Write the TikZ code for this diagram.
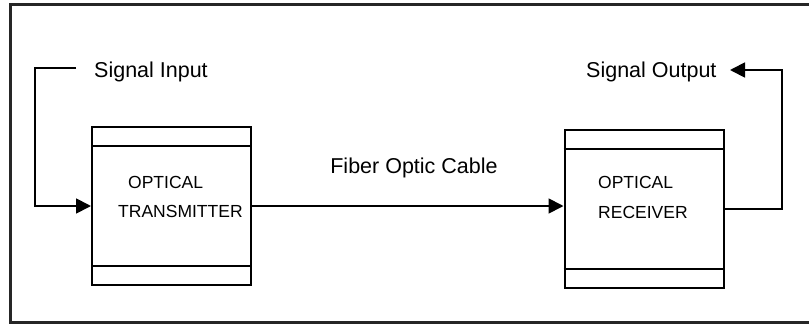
\documentclass[tikz,border=0pt]{standalone}
\usepackage{fontspec}
\setmainfont{Liberation Sans}
\usetikzlibrary{arrows.meta,positioning,calc}

\begin{document}
\begin{tikzpicture}[
    x=1pt, y=-1pt,
    unit/.style={rectangle, draw, line width=2pt, minimum width=159pt, minimum height=158pt, inner sep=0pt},
    bar/.style={line width=1.6pt},
    lbl/.style={font=\fontsize{21.5}{24}\selectfont, inner sep=0pt},
    txt/.style={font=\fontsize{17.5}{28}\selectfont, align=left, inner sep=0pt},
    arr/.style={-{Triangle[length=15pt, width=15pt]}, line width=1.8pt}
  ]
    \useasboundingbox (0,0) rectangle (809,324);
    % outer frame
    \draw[line width=3pt, black!85] (809,4) -- (10,4) -- (10,322) -- (809,322);
    % units
    \node[unit] (tx) at (171.5,206) {};
    \node[unit] (rx) at (644,209) {};
    \draw[bar] ($(tx.north west)+(0,20)$) -- ($(tx.north east)+(0,20)$);
    \draw[bar] ($(tx.south west)+(0,-20)$) -- ($(tx.south east)+(0,-20)$);
    \draw[bar] ($(rx.north west)+(0,20)$) -- ($(rx.north east)+(0,20)$);
    \draw[bar] ($(rx.south west)+(0,-20)$) -- ($(rx.south east)+(0,-20)$);
    \node[txt, anchor=west] (txa) at (128,182) {OPTICAL};
    \node[txt, anchor=west] (txb) at (118,211) {TRANSMITTER};
    \node[txt, anchor=west] (rxa) at (598,182) {OPTICAL};
    \node[txt, anchor=west] (rxb) at (598,212) {RECEIVER};
    % labels
    \node[lbl, anchor=west] (in) at (94,72) {Signal Input};
    \node[lbl, anchor=west] (out) at (586,72) {Signal Output};
    \node[lbl] (cable) at (414,168) {Fiber Optic Cable};
    \coordinate (inbeg) at (76,68);
    \coordinate (outend) at (730,70);
    \coordinate (outcorner) at (782,209);
    % connections
    \draw[arr] (inbeg) -- (35,68) |- (tx.west);
    \draw[arr] (tx.east) -- (rx.west |- tx.east);
    \draw[arr] (rx.east) -- (outcorner) |- (outend);
  \end{tikzpicture}
\end{document}
